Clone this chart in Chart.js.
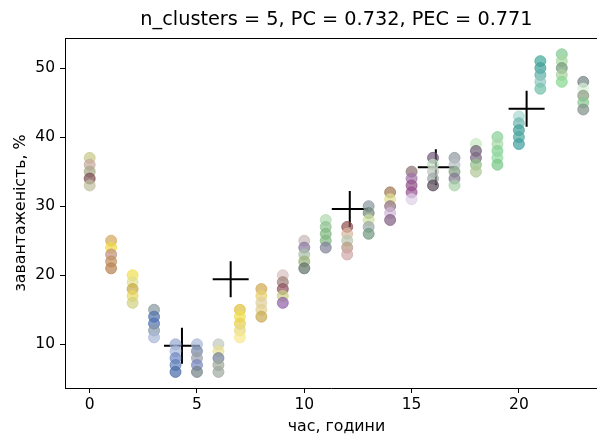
<!DOCTYPE html>
<html>
<head>
<meta charset="utf-8">
<title>n_clusters = 5</title>
<script src="https://cdn.jsdelivr.net/npm/chart.js@4.4.1/dist/chart.umd.min.js"></script>
<style>
    html, body { margin: 0; padding: 0; background: #fff; overflow: hidden; }
    #wrap { position: relative; width: 597px; height: 437px; }
    #clusterChart { display: block; }
</style>
</head>
<body>
<div id="wrap"><canvas id="clusterChart" width="597" height="437"></canvas></div>
<script>
// --- Data: load per hour (five days each), fuzzy c-means centres ---
const hours = [0, 1, 2, 3, 4, 5, 6, 7, 8, 9, 10, 11, 12, 13, 14, 15, 16, 17, 18, 19, 20, 21, 22, 23];
const loadByHour = [
    [37, 36, 35, 34, 33],
    [25, 24, 23, 22, 21],
    [20, 19, 18, 17, 16],
    [15, 14, 13, 12, 11],
    [10, 9, 8, 7, 6],
    [10, 9, 8, 7, 6],
    [10, 9, 8, 7, 6],
    [15, 14, 13, 12, 11],
    [18, 17, 16, 15, 14],
    [20, 19, 18, 17, 16],
    [25, 24, 23, 22, 21],
    [28, 27, 26, 25, 24],
    [27, 26, 25, 24, 23],
    [30, 29, 28, 27, 26],
    [32, 31, 30, 29, 28],
    [35, 34, 33, 32, 31],
    [37, 36, 35, 34, 33],
    [37, 36, 35, 34, 33],
    [39, 38, 37, 36, 35],
    [40, 39, 38, 37, 36],
    [43, 42, 41, 40, 39],
    [51, 50, 49, 48, 47],
    [52, 51, 50, 49, 48],
    [48, 47, 46, 45, 44]
];
const centerHour = [4.3, 6.57, 12.12, 16.13, 20.36];
const centerLoad = [9.8, 19.4, 29.6, 35.65, 44.1];
const xTicks = [0, 5, 10, 15, 20];
const yTicks = [10, 20, 30, 40, 50];

// full hour range is -1.15..24.15; the figure is cut off at 23.64
const X_MIN = -1.15;
const X_MAX_FULL = 24.15;
const X_MAX_VISIBLE = 23.64;

const chartTitle = 'n_clusters = 5, PC = 0.732, PEC = 0.771';
const xLabel = 'час, години';
const yLabel = 'завантаженість, %';

// membership-blended colours, same layout as loadByHour
const pointColors = [
    ['#c8c88a', '#c8a8a0', '#a8a888', '#7a4a50', '#c0c0a0'],
    ['#d4a860', '#f0d840', '#c09080', '#c09060', '#b88050'],
    ['#f0e050', '#e0e090', '#c8a840', '#e8d860', '#d0d080'],
    ['#8898a0', '#5070a8', '#5070b0', '#8898a8', '#a8b8d8'],
    ['#98a8d0', '#a8b8d8', '#7088c0', '#6080b8', '#4868a8'],
    ['#a8b8d8', '#7888a8', '#98a0a8', '#7888c0', '#708088'],
    ['#c0c8c0', '#e8e090', '#7080a0', '#a0a898', '#a0a8a0'],
    ['#e0c040', '#f0e050', '#e8d050', '#e8d880', '#f8e890'],
    ['#d0a850', '#e8d070', '#e0d0a0', '#e0d090', '#c8a850'],
    ['#d8c0c0', '#a08078', '#905060', '#c8d080', '#9060a8'],
    ['#c8b8b8', '#8878a0', '#a8c0a8', '#98b078', '#607068'],
    ['#b0d8b0', '#90c090', '#80b880', '#80b880', '#808098'],
    ['#905050', '#d8b8a0', '#b8c8b0', '#b89880', '#d0a8a8'],
    ['#8898a0', '#708878', '#d0e0a0', '#98a8a8', '#709880'],
    ['#a07850', '#e0e090', '#907080', '#d0b8d8', '#806080'],
    ['#8a7070', '#a070a8', '#905088', '#985090', '#e0d0e8'],
    ['#705878', '#c0e0c0', '#c0c8c0', '#a0a8a8', '#584858'],
    ['#9098a0', '#b8c0c8', '#80a080', '#807890', '#a8d0a8'],
    ['#c8e8c0', '#706078', '#786880', '#90c088', '#b0c898'],
    ['#88d098', '#a8d8a8', '#80d090', '#90d8a0', '#78c888'],
    ['#a8d8d0', '#70b8b0', '#40a098', '#50a8a0', '#40a0a0'],
    ['#40a898', '#40a098', '#60b0a8', '#90c8c0', '#70c0a8'],
    ['#80c890', '#a8d8a0', '#709878', '#a8d0a0', '#88d890'],
    ['#708080', '#d8f0d8', '#8a9a80', '#88c890', '#809088']
];

const POINT_ALPHA = 0.7;

function markerColor(hex) {
    const ch = [1, 3, 5].map(i => parseInt(hex.substr(i, 2), 16));
    return `rgba(${ch[0]}, ${ch[1]}, ${ch[2]}, ${POINT_ALPHA})`;
}

const scatterPoints = [];
const scatterColors = [];
hours.forEach((h, i) => {
    loadByHour[i].forEach((v, j) => {
        scatterPoints.push({ x: h, y: v });
        scatterColors.push(markerColor(pointColors[i][j]));
    });
});
const centerPoints = centerHour.map((h, i) => ({ x: h, y: centerLoad[i] }));

const FONT = "'DejaVu Sans', sans-serif";
const TICK_SIZE = 15.5;
const LABEL_SIZE = 15.8;

// top frame line, title and x label, centred on the full (uncut) hour range
const framePlugin = {
    id: 'frame',
    afterDraw(chart) {
        const { ctx, chartArea: a } = chart;
        const midX = chart.scales.x.getPixelForValue((X_MIN + X_MAX_FULL) / 2);
        ctx.save();
        ctx.strokeStyle = '#000';
        ctx.lineWidth = 1;
        ctx.beginPath();
        ctx.moveTo(a.left, a.top + 0.5);
        ctx.lineTo(a.right, a.top + 0.5);
        ctx.stroke();
        ctx.fillStyle = '#000';
        ctx.textAlign = 'center';
        ctx.textBaseline = 'middle';
        ctx.font = `19.3px ${FONT}`;
        ctx.fillText(chartTitle, midX, 20);
        ctx.font = `${LABEL_SIZE}px ${FONT}`;
        ctx.fillText(xLabel, midX, 427);
        ctx.restore();
    }
};

const axisCommon = {
    type: 'linear',
    grid: { drawOnChartArea: false, drawTicks: true, tickLength: 5, tickWidth: 1, tickColor: '#000' },
    border: { display: true, color: '#000', width: 1 },
    ticks: { color: '#000', font: { family: FONT, size: TICK_SIZE }, autoSkip: false, maxRotation: 0 }
};

new Chart(document.getElementById('clusterChart'), {
    type: 'scatter',
    data: {
        datasets: [
            {
                label: 'load',
                data: scatterPoints,
                backgroundColor: scatterColors,
                borderColor: scatterColors,
                borderWidth: 1,
                pointRadius: 5.5
            },
            {
                label: 'centres',
                data: centerPoints,
                pointStyle: 'cross',
                pointRadius: 18,
                borderColor: '#000',
                borderWidth: 2
            }
        ]
    },
    options: {
        responsive: false,
        animation: false,
        devicePixelRatio: 1,
        // no extra room for the big centre crosses
        layout: { autoPadding: false, padding: { top: 38, right: 0, left: 0, bottom: 0 } },
        plugins: {
            legend: { display: false },
            title: { display: false },
            tooltip: { enabled: false }
        },
        scales: {
            x: {
                ...axisCommon,
                min: X_MIN,
                max: X_MAX_VISIBLE,
                afterBuildTicks: s => { s.ticks = xTicks.map(v => ({ value: v })); },
                afterFit: s => { s.height = 49; s.paddingLeft = 0; s.paddingRight = 0; },
                ticks: { ...axisCommon.ticks, padding: 3 },
                title: { display: false }
            },
            y: {
                ...axisCommon,
                min: 3.67,
                max: 54.35,
                afterBuildTicks: s => { s.ticks = yTicks.map(v => ({ value: v })); },
                afterFit: s => { s.width = 65; s.paddingTop = 0; s.paddingBottom = 0; },
                ticks: { ...axisCommon.ticks, padding: 5 },
                title: { display: true, text: yLabel, color: '#000', font: { family: FONT, size: LABEL_SIZE }, padding: { top: 11, bottom: 0 } }
            }
        }
    },
    plugins: [framePlugin]
});
</script>
</body>
</html>
